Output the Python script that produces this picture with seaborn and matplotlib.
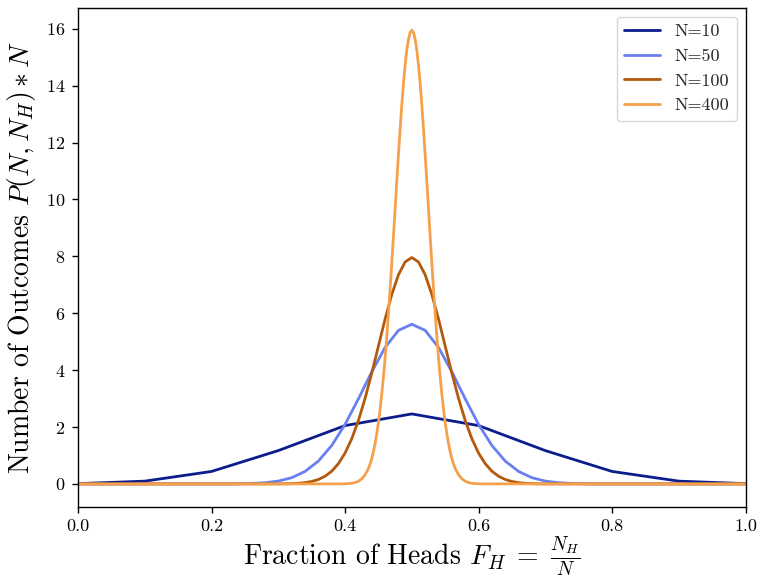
import matplotlib
matplotlib.use("Agg")
import matplotlib.pyplot as plt
import seaborn as sns
import pandas as pd

sns.set_style("ticks", {"axes.edgecolor": "black", "xtick.color": "black", "ytick.color": "black",
                        "axes.labelcolor": "black"})
plt.rcParams["font.family"] = ["serif"]
plt.rcParams["font.serif"] = ["cmr10", "DejaVu Serif"]
plt.rcParams["mathtext.fontset"] = "cm"
plt.rcParams["axes.formatter.use_mathtext"] = True

# N = 10
x10 = [0.0, 0.1, 0.2, 0.3, 0.4, 0.5, 0.6, 0.7, 0.8, 0.9, 1.0]
y10 = [0.010, 0.098, 0.439, 1.172, 2.051, 2.461, 2.051, 1.172, 0.439, 0.098, 0.010]

# N = 50
x50 = [0.0, 0.22, 0.24, 0.26, 0.28, 0.30, 0.32, 0.34, 0.36, 0.38, 0.40, 0.42, 0.44, 0.46, 0.48,
       0.50, 0.52, 0.54, 0.56, 0.58, 0.60, 0.62, 0.64, 0.66, 0.68, 0.70, 0.72, 0.74, 0.76, 0.78, 1.0]
y50 = [0.0, 0.001, 0.005, 0.016, 0.042, 0.100, 0.219, 0.438, 0.802, 1.350, 2.093, 2.990, 3.941, 4.798, 5.398,
       5.614, 5.398, 4.798, 3.941, 2.990, 2.093, 1.350, 0.802, 0.438, 0.219, 0.100, 0.042, 0.016, 0.005, 0.001, 0.0]

# N = 100
x100 = [0.0, 0.30, 0.31, 0.32, 0.33, 0.34, 0.35, 0.36, 0.37, 0.38, 0.39, 0.40, 0.41, 0.42, 0.43, 0.44, 0.45,
        0.46, 0.47, 0.48, 0.49, 0.50, 0.51, 0.52, 0.53, 0.54, 0.55, 0.56, 0.57, 0.58, 0.59, 0.60,
        0.61, 0.62, 0.63, 0.64, 0.65, 0.66, 0.67, 0.68, 0.69, 0.70, 1.0]
y100 = [0.0, 0.002, 0.005, 0.011, 0.023, 0.046, 0.086, 0.156, 0.270, 0.447, 0.711, 1.084, 1.587, 2.229, 3.007,
        3.895, 4.847, 5.796, 6.659, 7.353, 7.803, 7.959, 7.803, 7.353, 6.659, 5.796, 4.847, 3.895, 3.007,
        2.229, 1.587, 1.084, 0.711, 0.447, 0.270, 0.156, 0.086, 0.046, 0.023, 0.011, 0.005, 0.002, 0.0]

# N = 400
x400 = [0.0, 0.395, 0.400, 0.405, 0.410, 0.415, 0.420, 0.425, 0.430, 0.435,
        0.4375, 0.4400, 0.4425, 0.4450, 0.4475, 0.4500, 0.4525, 0.4550, 0.4575, 0.4600,
        0.4625, 0.4650, 0.4675, 0.4700, 0.4725, 0.4750, 0.4775, 0.4800, 0.4825, 0.4850,
        0.4875, 0.4900, 0.4925, 0.4950, 0.4975, 0.5000, 0.5025, 0.5050, 0.5075, 0.5100,
        0.5125, 0.5150, 0.5175, 0.5200, 0.5225, 0.5250, 0.5275, 0.5300, 0.5325, 0.5350,
        0.5375, 0.5400, 0.5425, 0.5450, 0.5475, 0.5500, 0.5525, 0.5550, 0.5575, 0.5600,
        0.5625, 0.565, 0.570, 0.575, 0.580, 0.585, 0.590, 0.595, 0.600, 0.605, 1.0]
y400 = [0.0, 0.002, 0.005, 0.012, 0.024, 0.049, 0.095, 0.18, 0.32, 0.54,
        0.70, 0.89, 1.13, 1.42, 1.76, 2.16, 2.62, 3.16, 3.76, 4.43,
        5.18, 5.99, 6.85, 7.76, 8.71, 9.67, 10.64, 11.58, 12.48, 13.32,
        14.08, 14.72, 15.25, 15.63, 15.87, 15.95, 15.87, 15.63, 15.25, 14.72,
        14.08, 13.32, 12.48, 11.58, 10.64, 9.67, 8.71, 7.76, 6.85, 5.99,
        5.18, 4.43, 3.76, 3.16, 2.62, 2.16, 1.76, 1.42, 1.13, 0.89,
        0.70, 0.54, 0.32, 0.18, 0.095, 0.049, 0.024, 0.012, 0.005, 0.002, 0.0]

labels = ["N=10", "N=50", "N=100", "N=400"]
colors = ["#0c1c8c", "#6a7ff0", "#b35a0e", "#f5a04a"]
series = [(x10, y10), (x50, y50), (x100, y100), (x400, y400)]

frames = []
for lab, (xs, ys) in zip(labels, series):
    frames.append(pd.DataFrame({"x": xs, "y": ys, "N": lab}))
df = pd.concat(frames, ignore_index=True)

fig, ax = plt.subplots(figsize=(7.57, 5.79), dpi=100)
sns.lineplot(data=df, x="x", y="y", hue="N", palette=dict(zip(labels, colors)),
             hue_order=labels, linewidth=2, ax=ax, sort=True, estimator=None)

ax.set_xlim(0, 1)
ax.margins(y=0.05)
ax.set_xticks([0.0, 0.2, 0.4, 0.6, 0.8, 1.0])
ax.set_xticklabels(["0.0", "0.2", "0.4", "0.6", "0.8", "1.0"])
ax.set_yticks([0, 2, 4, 6, 8, 10, 12, 14, 16])
ax.tick_params(labelsize=13, length=4, width=1, pad=5)
ax.set_xlabel(r"Fraction of Heads $F_H\;=\;\frac{N_H}{N}$", fontsize=20, labelpad=0)
ax.set_ylabel(r"Number of Outcomes $P(N,N_H)*N$", fontsize=20, labelpad=6)
leg = ax.legend(title=None, fontsize=13, loc="upper right")
for sp in ax.spines.values():
    sp.set_linewidth(1.0)
    sp.set_color("black")

fig.subplots_adjust(left=0.103, right=0.985, top=0.987, bottom=0.125)
fig.savefig("out.png", dpi=100)
